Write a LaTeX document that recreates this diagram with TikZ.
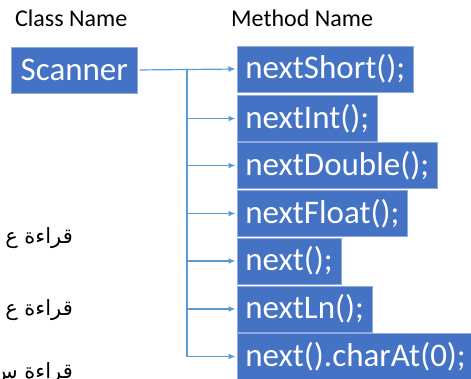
\documentclass[tikz,border=0pt]{standalone}
\usepackage{fontspec}
\setmainfont{Carlito}
\newfontfamily\arabicfont[Script=Arabic]{DejaVu Sans}
\TeXXeTstate=1
\usetikzlibrary{arrows.meta}
\definecolor{boxblue}{RGB}{68,114,196}
\definecolor{lineblue}{RGB}{91,155,213}

\begin{document}
\begin{tikzpicture}[x=1pt,y=-1pt,
  head/.style={anchor=west,inner sep=0pt,font=\fontsize{24}{24}\selectfont},
  method/.style={fill=boxblue,draw=boxblue!60!white,line width=0.6pt,text=white,
    font=\fontsize{33}{33}\selectfont,anchor=west,minimum height=46pt,
    inner xsep=8pt,inner ysep=0pt},
  trunkline/.style={draw=lineblue,line width=1.2pt},
  link/.style={trunkline,-{Latex[length=7pt,width=6pt]},shorten >=1.5pt},
  arabic/.style={anchor=east,inner sep=0pt,font=\arabicfont\fontsize{21}{21}\selectfont}]

  \useasboundingbox (0,0) rectangle (471,379);
  \clip (0,0) rectangle (471,379);

  % headers
  \node [head] (classhead) at (15,18) {Class Name};
  \node [head] (methodhead) at (231,18) {Method Name};

  % class box
  \node [method,minimum width=126pt,inner xsep=0pt] (scanner) at (11,70) {Scanner};

  % method boxes
  \foreach \name/\txt/\y in {short/{nextShort();}/69,int/{nextInt();}/118.5,
      double/{nextDouble();}/165.5,float/{nextFloat();}/213.5,next/{next();}/261,
      ln/{nextLn();}/309,char/{next().charAt(0);}/356.5}
  {
    \node [method] (m\name) at (237,\y) {\txt};
  }

  % connectors
  \coordinate (split) at (187,70);
  \draw [link,shorten <=2pt] (scanner.east) -- (mshort.west);
  \draw [trunkline] (split) -- (split |- mchar.west);
  \foreach \name in {int,double,float,next,ln,char}
    \draw [link] (split |- m\name.west) -- (m\name.west);

  % arabic notes, cut by the left edge
  \node [arabic] (note1) at (73,238) {\beginR قراءة ع\endR};
  \node [arabic] (note2) at (73,310) {\beginR قراءة ع\endR};
  \node [arabic] (note3) at (73,373) {\beginR قراءة س\endR};

\end{tikzpicture}
\end{document}
